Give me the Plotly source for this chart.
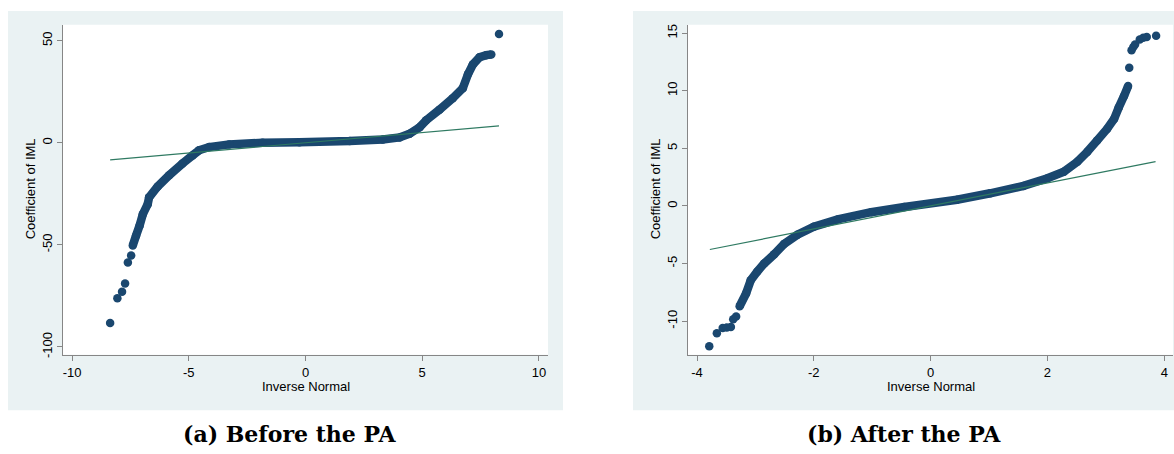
import plotly.graph_objects as go

# ---------------- data ----------------
# Panel (a): Before the PA
a_low_x = [-8.37, -8.06, -7.86, -7.73, -7.61, -7.47]
a_low_y = [-88.3, -76.2, -73.0, -68.9, -58.7, -55.2]
a_body_x = [-7.40, -7.26, -7.11, -6.97, -6.76, -6.70, -6.34, -5.84, -5.27, -4.84,
            -4.56, -4.13, -3.27, -1.84, -0.26, 1.89, 3.31, 4.03, 4.46, 4.89,
            5.17, 5.74, 6.31, 6.74, 6.96, 7.17, 7.46, 7.74, 7.96]
a_body_y = [-50.3, -45.5, -40.6, -35.0, -30.1, -26.7, -21.5, -15.9, -10.2, -6.2,
            -3.7, -2.1, -0.8, 0.0, 0.2, 0.8, 1.6, 2.6, 4.4, 7.6,
            11.0, 16.2, 21.8, 26.7, 33.5, 38.3, 41.9, 42.9, 43.2]
a_high_x = [8.29]
a_high_y = [53.3]
a_ref_x = [-8.37, 8.29]
a_ref_y = [-8.37, 8.29]

# Panel (b): After the PA
b_low_x = [-3.79, -3.66, -3.56, -3.49, -3.42, -3.38, -3.33]
b_low_y = [-12.17, -11.05, -10.6, -10.55, -10.5, -9.83, -9.6]
b_body_x = [-3.27, -3.16, -3.08, -2.97, -2.85, -2.68, -2.51, -2.28, -2.00, -1.59,
            -1.02, -0.45, 0.45, 1.02, 1.59, 2.00, 2.28, 2.51, 2.68, 2.85,
            3.02, 3.14, 3.22, 3.31, 3.38]
b_body_y = [-8.7, -7.6, -6.45, -5.7, -5.0, -4.2, -3.3, -2.5, -1.8, -1.17,
            -0.54, -0.09, 0.54, 1.1, 1.74, 2.4, 2.97, 3.83, 4.69, 5.68,
            6.68, 7.54, 8.54, 9.54, 10.4]
b_high_x = [3.40, 3.44, 3.47, 3.50, 3.58, 3.64, 3.70, 3.86]
b_high_y = [12.0, 13.5, 13.8, 14.0, 14.45, 14.6, 14.65, 14.76]
b_ref_x = [-3.78, 3.85]
b_ref_y = [-3.78, 3.85]

a_xticks = [-10, -5, 0, 5, 10]
a_yticks = [-100, -50, 0, 50]
b_xticks = [-4, -2, 0, 2, 4]
b_yticks = [-10, -5, 0, 5, 10, 15]

x_title = "Inverse Normal"
y_title = "Coefficient of IML"
captions = ["(a) Before the PA", "(b) After the PA"]

# ---------------- styling ----------------
W, H = 1174, 454
NAVY = "#1a476f"
GREEN = "#2f7a62"
PANEL = "#eaf2f3"
AXIS = "#868686"
FONT = "Liberation Sans, Arial, sans-serif"
MS = 8.5


def px(x):
    return x / W


def py(y):
    return 1 - y / H


def labels(vals):
    return [str(v) for v in vals]


fig = go.Figure()


def add_panel(xa, ya, lowx, lowy, bx, by, hx, hy, rx, ry):
    fig.add_trace(go.Scatter(x=bx, y=by, mode="lines+markers", xaxis=xa, yaxis=ya,
                             line=dict(color=NAVY, width=8.5, simplify=False),
                             marker=dict(color=NAVY, size=MS)))
    fig.add_trace(go.Scatter(x=lowx + hx, y=lowy + hy, mode="markers", xaxis=xa, yaxis=ya,
                             marker=dict(color=NAVY, size=MS)))
    fig.add_trace(go.Scatter(x=rx, y=ry, mode="lines", xaxis=xa, yaxis=ya,
                             line=dict(color=GREEN, width=1.2)))


add_panel("x", "y", a_low_x, a_low_y, a_body_x, a_body_y, a_high_x, a_high_y, a_ref_x, a_ref_y)
add_panel("x2", "y2", b_low_x, b_low_y, b_body_x, b_body_y, b_high_x, b_high_y, b_ref_x, b_ref_y)

axis_common = dict(showline=True, linecolor=AXIS, linewidth=1.3, ticks="outside",
                   ticklen=5, tickwidth=1.2, tickcolor=AXIS, showgrid=False,
                   zeroline=False, tickfont=dict(family=FONT, size=13, color="black"))

ydom = [py(357), py(24)]
fig.update_layout(
    width=W, height=H, margin=dict(l=0, r=0, t=0, b=0),
    paper_bgcolor="white", plot_bgcolor="white", showlegend=False,
    xaxis=dict(domain=[px(63), px(548)], range=[-10.39, 10.39], tickvals=a_xticks,
               ticktext=labels(a_xticks), anchor="y", **axis_common),
    yaxis=dict(domain=ydom, range=[-103.88, 57.77], tickvals=a_yticks,
               ticktext=labels(a_yticks), tickangle=-90, anchor="x", **axis_common),
    xaxis2=dict(domain=[px(688), px(1173)], range=[-4.154, 4.149], tickvals=b_xticks,
                ticktext=labels(b_xticks), anchor="y2", **axis_common),
    yaxis2=dict(domain=ydom, range=[-12.92, 15.72], tickvals=b_yticks,
                ticktext=labels(b_yticks), tickangle=-90, anchor="x2", **axis_common),
)

shapes = []
for x0, x1 in [(8, 563), (633, 1174)]:
    shapes.append(dict(type="rect", xref="paper", yref="paper", x0=px(x0), x1=px(x1),
                       y0=py(413), y1=py(10), fillcolor=PANEL, line=dict(width=0),
                       layer="below"))
for x0, x1 in [(63, 548), (688, 1173)]:
    shapes.append(dict(type="rect", xref="paper", yref="paper", x0=px(x0), x1=px(x1),
                       y0=py(357), y1=py(24), fillcolor="white", line=dict(width=0),
                       layer="below"))
fig.update_layout(shapes=shapes)

ann = []
for cx, cyl in [(306, 30), (931, 655)]:
    ann.append(dict(text=x_title, x=px(cx), y=py(388.5), xref="paper", yref="paper",
                    showarrow=False, xanchor="center", yanchor="middle",
                    font=dict(family=FONT, size=13, color="black")))
    ann.append(dict(text=y_title, x=px(cyl), y=py(190), xref="paper", yref="paper",
                    showarrow=False, xanchor="center", yanchor="middle", textangle=-90,
                    font=dict(family=FONT, size=13, color="black")))
for cap, cx in zip(captions, [289.5, 903.5]):
    ann.append(dict(text="<b>" + cap + "</b>", x=px(cx), y=py(437), xref="paper",
                    yref="paper", showarrow=False, xanchor="center", yanchor="middle",
                    font=dict(family="DejaVu Serif, serif", size=22, color="black")))
fig.update_layout(annotations=ann)

fig.write_html("out.html", config={"displayModeBar": False},
               post_script="document.body.style.margin='0';")
